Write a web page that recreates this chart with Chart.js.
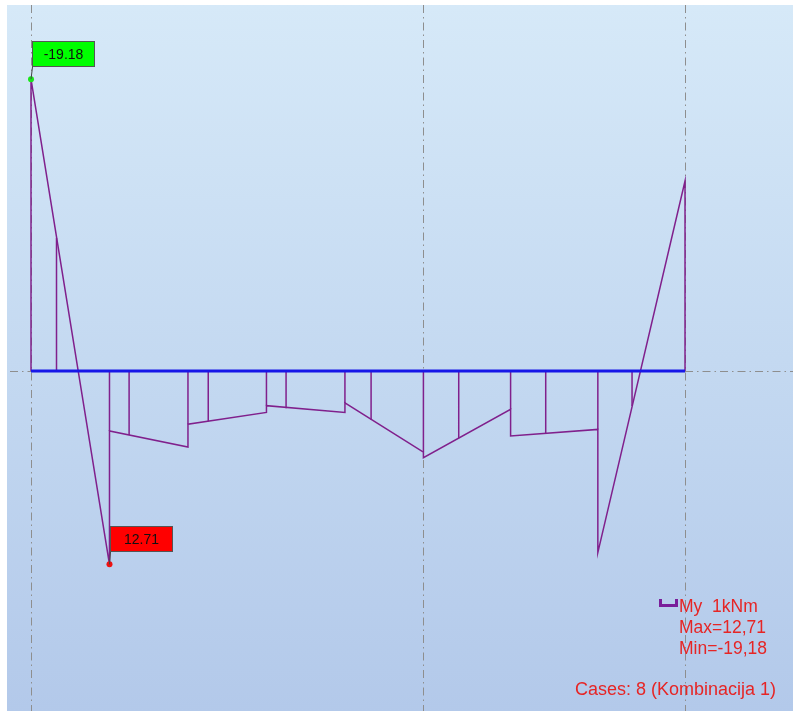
<!DOCTYPE html>
<html><head><meta charset="utf-8">
<script src="https://cdn.jsdelivr.net/npm/chart.js@4/dist/chart.umd.min.js"></script>
<style>
html,body{margin:0;padding:0;background:#fff;width:793px;height:711px;overflow:hidden;}
#wrap{position:absolute;left:7px;top:5px;width:786px;height:706px;}
</style></head><body>
<div id="wrap"><canvas id="c"></canvas></div>
<script>
// Beam positions (m) and bending moment My (kNm), positive drawn downward
const outlineX = [0, 0, 1.2, 1.2, 2.4, 2.4, 3.6, 3.6, 4.8, 4.8, 6.0, 6.0, 7.333, 7.333, 8.667, 8.667, 10, 10];
const outlineM = [0, -19.18, 12.71, 3.94, 5.0, 3.5, 2.72, 2.28, 2.72, 2.1, 5.33, 5.70, 2.52, 4.27, 3.84, 11.94, -12.49, 0];
const hatchX = [0.39, 1.2, 1.5, 2.4, 2.71, 3.6, 3.9, 4.8, 5.2, 6.0, 6.54, 7.333, 7.87, 8.667, 9.19];
const hatchM = [-8.75, 3.94, 4.2, 3.5, 3.3, 2.28, 2.45, 2.1, 3.2, 5.33, 4.42, 2.52, 4.12, 3.84, 2.3];
const beamX = [0, 10];
const gridX = [0, 6, 10];
const extremeX = [0, 1.2];
const extremeM = [-19.18, 12.71];
const extremeLabels = ['-19.18', '12.71'];
const extremeColors = ['#19e619', '#ee1111'];
const extremeBoxColors = ['#00ff00', '#ff0000'];
const legendLines = ['My  1kNm', 'Max=12,71', 'Min=-19,18'];
const casesText = 'Cases: 8 (Kombinacija 1)';

const outlineData = outlineX.map((x, i) => ({x, y: outlineM[i]}));
const hatchData = [];
hatchX.forEach((x, i) => { hatchData.push({x, y: 0}, {x, y: hatchM[i]}, {x, y: null}); });

const bgPlugin = {
  id: 'bg',
  beforeDraw(chart) {
    const {ctx, width, height, scales} = chart;
    const g = ctx.createLinearGradient(0, 0, 0, height);
    g.addColorStop(0, '#d6e9f8');
    g.addColorStop(0.5, '#c4d9f1');
    g.addColorStop(1, '#b3c9ea');
    ctx.save();
    ctx.fillStyle = g;
    ctx.fillRect(0, 0, width, height);
    ctx.strokeStyle = '#8e8e8e';
    ctx.lineWidth = 1;
    ctx.setLineDash([8, 4, 1.5, 4]);
    const xs = scales.x, ys = scales.y;
    gridX.forEach(v => {
      const px = Math.round(xs.getPixelForValue(v)) + 0.5;
      ctx.beginPath(); ctx.moveTo(px, 0); ctx.lineTo(px, height); ctx.stroke();
    });
    const py = Math.round(ys.getPixelForValue(0)) + 0.5;
    const x0 = xs.getPixelForValue(beamX[0]), x1 = xs.getPixelForValue(beamX[1]);
    ctx.beginPath(); ctx.moveTo(3, py); ctx.lineTo(x0, py); ctx.stroke();
    ctx.beginPath(); ctx.moveTo(x1, py); ctx.lineTo(width, py); ctx.stroke();
    ctx.restore();
  }
};

const labelPlugin = {
  id: 'labels',
  afterDatasetsDraw(chart) {
    const {ctx, scales} = chart;
    ctx.save();
    extremeX.forEach((x, i) => {
      const px = scales.x.getPixelForValue(x);
      const py = scales.y.getPixelForValue(extremeM[i]);
      const bx = Math.round(px) + 1, by = Math.round(py) - 38, bw = 63, bh = 26;
      ctx.strokeStyle = '#444';
      ctx.lineWidth = 1;
      ctx.beginPath(); ctx.moveTo(px, py); ctx.lineTo(bx + 0.5, by + bh); ctx.stroke();
      ctx.fillStyle = extremeBoxColors[i];
      ctx.fillRect(bx, by, bw, bh);
      ctx.strokeStyle = '#555';
      ctx.strokeRect(bx + 0.5, by + 0.5, bw - 1, bh - 1);
      ctx.fillStyle = '#111';
      ctx.font = '14px "Liberation Sans", Arial, sans-serif';
      ctx.textAlign = 'center';
      ctx.textBaseline = 'middle';
      ctx.fillText(extremeLabels[i], bx + bw / 2, by + bh / 2 + 1);
    });
    // legend
    const lx = 672, ly = 600;
    ctx.strokeStyle = '#7a1e9a';
    ctx.lineWidth = 3;
    ctx.beginPath();
    ctx.moveTo(lx - 20 + 1.5, ly - 6); ctx.lineTo(lx - 20 + 1.5, ly + 0.5);
    ctx.lineTo(lx - 2.5, ly + 0.5); ctx.lineTo(lx - 2.5, ly - 6);
    ctx.stroke();
    ctx.fillStyle = '#e62525';
    ctx.font = '17.5px "Liberation Sans", Arial, sans-serif';
    ctx.textAlign = 'left';
    ctx.textBaseline = 'middle';
    legendLines.forEach((t, i) => ctx.fillText(t, lx, ly + 2 + i * 21));
    ctx.font = '18px "Liberation Sans", Arial, sans-serif';
    ctx.textAlign = 'right';
    ctx.fillText(casesText, 769, 685);
    ctx.restore();
  }
};

new Chart(document.getElementById('c'), {
  type: 'scatter',
  data: {
    datasets: [
      { data: beamX.map(x => ({x, y: 0})), showLine: true, borderColor: '#1717e8', borderWidth: 3, pointRadius: 0, order: 0 },
      { data: extremeX.map((x, i) => ({x, y: extremeM[i]})), showLine: false, pointRadius: 3, pointBorderWidth: 0,
        pointBackgroundColor: extremeColors, pointBorderColor: extremeColors, order: 1 },
      { data: outlineData, showLine: true, borderColor: '#80208c', borderWidth: 1.5, pointRadius: 0, tension: 0, order: 2 },
      { data: hatchData, showLine: true, spanGaps: false, borderColor: '#80208c', borderWidth: 1.5, pointRadius: 0, order: 3 }
    ]
  },
  options: {
    responsive: true, maintainAspectRatio: false, animation: false,
    layout: { padding: 0, autoPadding: false },
    plugins: { legend: { display: false }, tooltip: { enabled: false } },
    scales: {
      x: { type: 'linear', display: false, min: -0.367, max: 11.651 },
      y: { type: 'linear', display: false, reverse: true, min: -24.06, max: 22.35 }
    }
  },
  plugins: [bgPlugin, labelPlugin]
});
</script>
</body></html>
